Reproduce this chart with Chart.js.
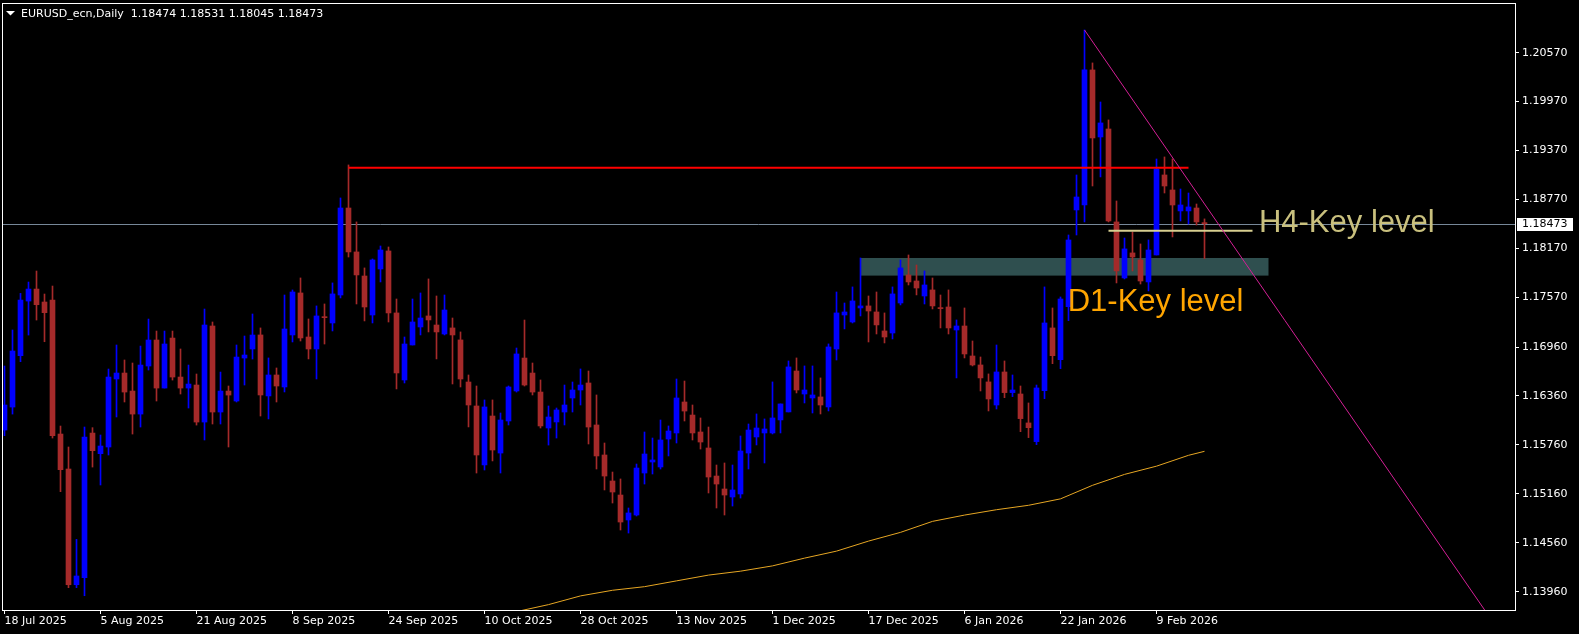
<!DOCTYPE html>
<html>
<head>
<meta charset="utf-8">
<script src="https://cdn.jsdelivr.net/npm/chart.js@4"></script>
<style>
html, body { margin: 0; padding: 0; background: #000; }
canvas { display: block; }
</style>
</head>
<body>
<canvas id="chart" width="1579" height="634"></canvas>
<script>
// daily candles, 18 Jul 2025 .. 17 Feb 2026 (one per trading day)
const opens = [1.15942,1.16224,1.16854,1.17524,1.17671,1.17512,1.17536,1.15893,1.15464,1.14045,
1.14131,1.15905,1.15652,1.15734,1.16568,1.16641,1.16420,1.16138,1.16727,1.17046,
1.16457,1.17070,1.16592,1.16457,1.16494,1.16040,1.17218,1.16163,1.16420,1.16298,
1.16825,1.16936,1.17108,1.16360,1.16617,1.16470,1.17108,1.17623,1.17083,1.16936,
1.17329,1.17255,1.17598,1.18665,1.18126,1.17831,1.17353,1.17917,1.18138,1.17378,
1.16556,1.16985,1.17206,1.17341,1.17230,1.17120,1.17194,1.17047,1.16531,1.16237,
1.15514,1.16114,1.15660,1.16053,1.16421,1.16825,1.16641,1.16408,1.15967,1.16041,
1.16163,1.16335,1.16433,1.16519,1.16004,1.15636,1.15317,1.15145,1.14839,1.14900,
1.15415,1.15550,1.15489,1.15832,1.15906,1.16286,1.16126,1.15918,1.15722,1.15378,
1.15219,1.15121,1.15158,1.15660,1.15857,1.15906,1.15906,1.16066,1.16164,1.16666,
1.16384,1.16335,1.16348,1.16225,1.16936,1.17353,1.17267,1.17439,1.17464,1.17390,
1.17157,1.17132,1.17500,1.17844,1.17770,1.17586,1.17660,1.17439,1.17451,1.17169,
1.17218,1.16850,1.16740,1.16532,1.16249,1.16654,1.16401,1.16384,1.16029,1.15800,
1.16425,1.17194,1.16805,1.17455,1.18641,1.18702,1.20358,1.19536,1.19634,1.18494,
1.17807,1.18114,1.18028,1.17758,1.18089,1.19070,1.18886,1.18629,1.18629,1.18665,
1.18474];
const highs = [1.16727,1.17169,1.17618,1.17757,1.17892,1.17610,1.17708,1.15991,1.15734,1.14601,
1.15979,1.15971,1.15881,1.16690,1.16985,1.16801,1.16764,1.16972,1.17303,1.17156,
1.17156,1.17156,1.16936,1.16739,1.16629,1.17426,1.17267,1.16653,1.16482,1.16985,
1.17095,1.17365,1.17194,1.16826,1.16703,1.17598,1.17660,1.17807,1.17304,1.17464,
1.17488,1.17746,1.18788,1.19193,1.18494,1.17930,1.18040,1.18199,1.18187,1.17549,
1.17083,1.17549,1.17623,1.17795,1.17586,1.17598,1.17316,1.17145,1.16617,1.16482,
1.16311,1.16311,1.16151,1.16482,1.16948,1.17291,1.16764,1.16556,1.16237,1.16212,
1.16494,1.16531,1.16691,1.16666,1.16372,1.15783,1.15427,1.15342,1.14986,1.15525,
1.15918,1.15844,1.16065,1.15992,1.16568,1.16543,1.16249,1.16090,1.15979,1.15513,
1.15538,1.15513,1.15869,1.16016,1.16139,1.16078,1.16532,1.16262,1.16789,1.16826,
1.16728,1.16728,1.16581,1.16998,1.17635,1.17500,1.17697,1.18052,1.17586,1.17635,
1.17378,1.17697,1.18028,1.18089,1.17966,1.17893,1.17807,1.17598,1.17660,1.17292,
1.17439,1.17034,1.16838,1.16630,1.16985,1.16789,1.16617,1.16482,1.16274,1.16494,
1.17697,1.17439,1.17574,1.18334,1.19070,1.20848,1.20444,1.19965,1.19745,1.18751,
1.18297,1.18371,1.18224,1.18273,1.19266,1.19291,1.19266,1.18898,1.18849,1.18714,
1.18531];
const lows = [1.15873,1.16138,1.16780,1.17107,1.17291,1.17025,1.15844,1.15186,1.14009,1.14009,
1.13910,1.15488,1.15268,1.15636,1.16102,1.16286,1.15893,1.15979,1.16678,1.16298,
1.16457,1.16555,1.16384,1.16212,1.16003,1.15820,1.16016,1.16016,1.15734,1.16286,
1.16494,1.16813,1.16114,1.16078,1.16286,1.16409,1.17022,1.17034,1.16814,1.16568,
1.16997,1.17157,1.17562,1.18064,1.17488,1.17280,1.17255,1.17758,1.17267,1.16446,
1.16519,1.16985,1.17108,1.17145,1.16814,1.17108,1.16507,1.16470,1.15980,1.15415,
1.15452,1.15563,1.15415,1.16004,1.16408,1.16482,1.16372,1.15967,1.15758,1.15844,
1.16004,1.16163,1.16249,1.15771,1.15464,1.15207,1.15047,1.14716,1.14679,1.14888,
1.15280,1.15403,1.15464,1.15624,1.15783,1.16053,1.15820,1.15709,1.15170,1.14986,
1.14900,1.15010,1.15108,1.15464,1.15759,1.15538,1.15894,1.15906,1.16164,1.16397,
1.16274,1.16151,1.16139,1.16176,1.16801,1.17182,1.17255,1.17341,1.17022,1.17120,
1.17010,1.17059,1.17476,1.17721,1.17599,1.17488,1.17427,1.17194,1.17120,1.16581,
1.16826,1.16728,1.16421,1.16176,1.16200,1.16339,1.16352,1.15922,1.15849,1.15763,
1.16327,1.16756,1.16695,1.17284,1.18334,1.18494,1.18935,1.19046,1.18494,1.17746,
1.17795,1.17893,1.17733,1.17648,1.18089,1.18849,1.18310,1.18506,1.18469,1.18457,
1.18045];
const closes = [1.16249,1.16911,1.17536,1.17671,1.17479,1.17381,1.15873,1.15456,1.14045,1.14152,
1.15856,1.15689,1.15746,1.16592,1.16641,1.16408,1.16138,1.16739,1.17046,1.16457,
1.16997,1.16592,1.16457,1.16506,1.16040,1.17230,1.16163,1.16420,1.16371,1.16837,
1.16862,1.17107,1.16372,1.16617,1.16482,1.17181,1.17635,1.17071,1.16936,1.17341,
1.17320,1.17611,1.18665,1.18126,1.17844,1.17451,1.18028,1.18150,1.17378,1.16642,
1.16997,1.17267,1.17316,1.17292,1.17145,1.17414,1.17108,1.16568,1.16249,1.15636,
1.16225,1.15697,1.16065,1.16470,1.16875,1.16494,1.16408,1.15992,1.16102,1.16188,
1.16249,1.16433,1.16494,1.15979,1.15624,1.15378,1.15182,1.14814,1.14925,1.15476,
1.15648,1.15575,1.15820,1.15930,1.16335,1.16175,1.15906,1.15795,1.15366,1.15280,
1.15145,1.15207,1.15685,1.15942,1.15967,1.15955,1.16090,1.16262,1.16716,1.16433,
1.16433,1.16372,1.16249,1.16961,1.17378,1.17390,1.17525,1.17464,1.17402,1.17231,
1.17083,1.17611,1.17930,1.17758,1.17684,1.17721,1.17464,1.17431,1.17194,1.17218,
1.16875,1.16740,1.16581,1.16323,1.16654,1.16401,1.16433,1.16082,1.15971,1.16458,
1.17255,1.16854,1.17549,1.18273,1.18800,1.20358,1.19524,1.19708,1.18506,1.17893,
1.18163,1.18064,1.17770,1.18150,1.19144,1.18935,1.18702,1.18702,1.18678,1.18494,
1.18473];

// bottom axis labels, one every 12 bars
const tickLabels = ['18 Jul 2025','5 Aug 2025','21 Aug 2025','8 Sep 2025','24 Sep 2025','10 Oct 2025',
  '28 Oct 2025','13 Nov 2025','1 Dec 2025','17 Dec 2025','6 Jan 2026','22 Jan 2026','9 Feb 2026'];
const labelStep = 12;
const priceTicks = [1.20570,1.19970,1.19370,1.18770,1.18170,1.17570,1.16960,1.16360,1.15760,1.15160,1.14560,1.13960];

// moving average
const maIndex = [64,68,72,76,80,84,88,92,96,100,104,108,112,116,120,124,128,132,136,140,144,148,150];
const maValues = [1.13715,1.13801,1.13908,1.13977,1.14021,1.14092,1.14163,1.14211,1.14276,1.14371,1.14457,
  1.14580,1.14687,1.14822,1.14899,1.14965,1.15019,1.15098,1.15264,1.15398,1.15499,1.15632,1.15681];

// drawn objects (bar index, price)
const resistance = [[43, 1.19160], [148, 1.19160]];
const h4Level = [[138, 1.18387], [156, 1.18387]];
const trendLine = [[135, 1.20848], [186, 1.13596]];
const d1Zone = { from: 107, to: 158, top: 1.18052, bottom: 1.17836 };
const h4Text = { x: 156.8, y: 1.18376, text: 'H4-Key level' };
const d1Text = { x: 132.9, y: 1.17406, text: 'D1-Key level' };

const last = closes.length - 1;
const upColor = '#0000ff';
const downColor = '#a52a2a';
const candleColors = closes.map((c, i) => c >= opens[i] ? upColor : downColor);
const toPoints = arr => arr.map(p => ({ x: p[0], y: p[1] }));

Chart.defaults.font.family = 'DejaVu Sans';
Chart.defaults.font.size = 11;
Chart.defaults.color = '#ffffff';

const chartDecor = {
  id: 'chartDecor',
  beforeDatasetsDraw(chart) {
    const { ctx, chartArea: a, scales: { x, y } } = chart;
    ctx.save();
    // D1 zone
    const zx1 = x.getPixelForValue(d1Zone.from), zx2 = x.getPixelForValue(d1Zone.to);
    const zy1 = y.getPixelForValue(d1Zone.top), zy2 = y.getPixelForValue(d1Zone.bottom);
    ctx.beginPath();
    ctx.rect(a.left, a.top, a.right - a.left, a.bottom - a.top);
    ctx.clip();
    ctx.fillStyle = '#2f4f4f';
    ctx.fillRect(zx1, zy1, zx2 - zx1, zy2 - zy1);
    // bid line
    const by = Math.round(y.getPixelForValue(closes[last])) + 0.5;
    ctx.strokeStyle = '#778899';
    ctx.lineWidth = 1;
    ctx.beginPath();
    ctx.moveTo(a.left, by);
    ctx.lineTo(a.right, by);
    ctx.stroke();
    ctx.restore();
  },
  afterDatasetsDraw(chart) {
    const { ctx, scales: { x, y } } = chart;
    ctx.save();
    ctx.textBaseline = 'alphabetic';
    ctx.textAlign = 'left';
    ctx.font = '31px "Liberation Sans", Arial, sans-serif';
    ctx.fillStyle = '#c9c07e';
    ctx.fillText(h4Text.text, x.getPixelForValue(h4Text.x), y.getPixelForValue(h4Text.y));
    ctx.fillStyle = '#ffa500';
    ctx.fillText(d1Text.text, x.getPixelForValue(d1Text.x), y.getPixelForValue(d1Text.y));

    // header
    ctx.fillStyle = '#ffffff';
    ctx.beginPath();
    ctx.moveTo(6, 11);
    ctx.lineTo(15, 11);
    ctx.lineTo(10.5, 15.5);
    ctx.closePath();
    ctx.fill();
    ctx.font = '11px "DejaVu Sans"';
    const header = 'EURUSD_ecn,Daily  ' + [opens[last], highs[last], lows[last], closes[last]].map(v => v.toFixed(5)).join(' ');
    ctx.fillText(header, 21, 17);
    ctx.restore();
  },
  afterDraw(chart) {
    const { ctx, chartArea: a, scales: { y } } = chart;
    ctx.save();
    ctx.strokeStyle = '#ffffff';
    ctx.lineWidth = 1;
    ctx.strokeRect(a.left + 0.5, a.top + 0.5, a.right - a.left, a.bottom - a.top);
    // current price tag
    const by = Math.round(y.getPixelForValue(closes[last]));
    ctx.fillStyle = '#ffffff';
    ctx.fillRect(a.right + 2, by - 6, 56, 13);
    ctx.fillStyle = '#000000';
    ctx.font = '11px "DejaVu Sans"';
    ctx.textBaseline = 'middle';
    ctx.fillText(closes[last].toFixed(5), a.right + 7, by + 0.5);
    ctx.restore();
  }
};

new Chart(document.getElementById('chart'), {
  type: 'bar',
  data: {
    datasets: [
      {
        type: 'line', label: 'Trend', data: toPoints(trendLine),
        borderColor: '#d41f96', borderWidth: 1, pointRadius: 0, order: 1
      },
      {
        type: 'line', label: 'Resistance', data: toPoints(resistance),
        borderColor: '#ff0000', borderWidth: 2, pointRadius: 0, order: 1
      },
      {
        type: 'line', label: 'H4 level', data: toPoints(h4Level),
        borderColor: '#d8cf90', borderWidth: 2, pointRadius: 0, order: 1
      },
      {
        type: 'line', label: 'MA', data: maIndex.map((v, i) => ({ x: v, y: maValues[i] })),
        borderColor: '#e6a623', borderWidth: 1, pointRadius: 0, order: 2
      },
      {
        label: 'Body', data: opens.map((o, i) => ({ x: i, y: [o, closes[i]] })),
        backgroundColor: candleColors, barThickness: 5, minBarLength: 1, grouped: false, order: 3
      },
      {
        label: 'Wick', data: lows.map((l, i) => ({ x: i, y: [l, highs[i]] })),
        backgroundColor: candleColors, barThickness: 1, grouped: false, order: 4
      }
    ]
  },
  options: {
    responsive: false,
    animation: false,
    events: [],
    layout: { padding: { left: 2, top: 3, right: 0, bottom: 0 } },
    plugins: { legend: { display: false }, tooltip: { enabled: false } },
    scales: {
      x: {
        type: 'linear', min: -0.3125, max: 188.8125, offset: false,
        grid: { drawOnChartArea: false, drawTicks: true, tickLength: 4, color: '#ffffff', offset: false },
        border: { display: false },
        afterBuildTicks: s => { s.ticks = tickLabels.map((t, k) => ({ value: k * labelStep })); },
        ticks: {
          color: '#ffffff', autoSkip: false, maxRotation: 0, align: 'start', padding: 1,
          callback: (v, i) => tickLabels[i]
        },
        afterFit: s => { s.height = 24; s.paddingLeft = 0; s.paddingRight = 0; }
      },
      y: {
        type: 'linear', position: 'right', min: 1.13735, max: 1.21179,
        grid: { drawOnChartArea: false, drawTicks: true, tickLength: 4, color: '#ffffff' },
        border: { display: false },
        afterBuildTicks: s => { s.ticks = priceTicks.map(v => ({ value: v })); },
        ticks: { color: '#ffffff', padding: 3, callback: v => v.toFixed(5) },
        afterFit: s => { s.width = 64; s.paddingTop = 0; s.paddingBottom = 0; }
      }
    }
  },
  plugins: [chartDecor]
});
</script>
</body>
</html>
